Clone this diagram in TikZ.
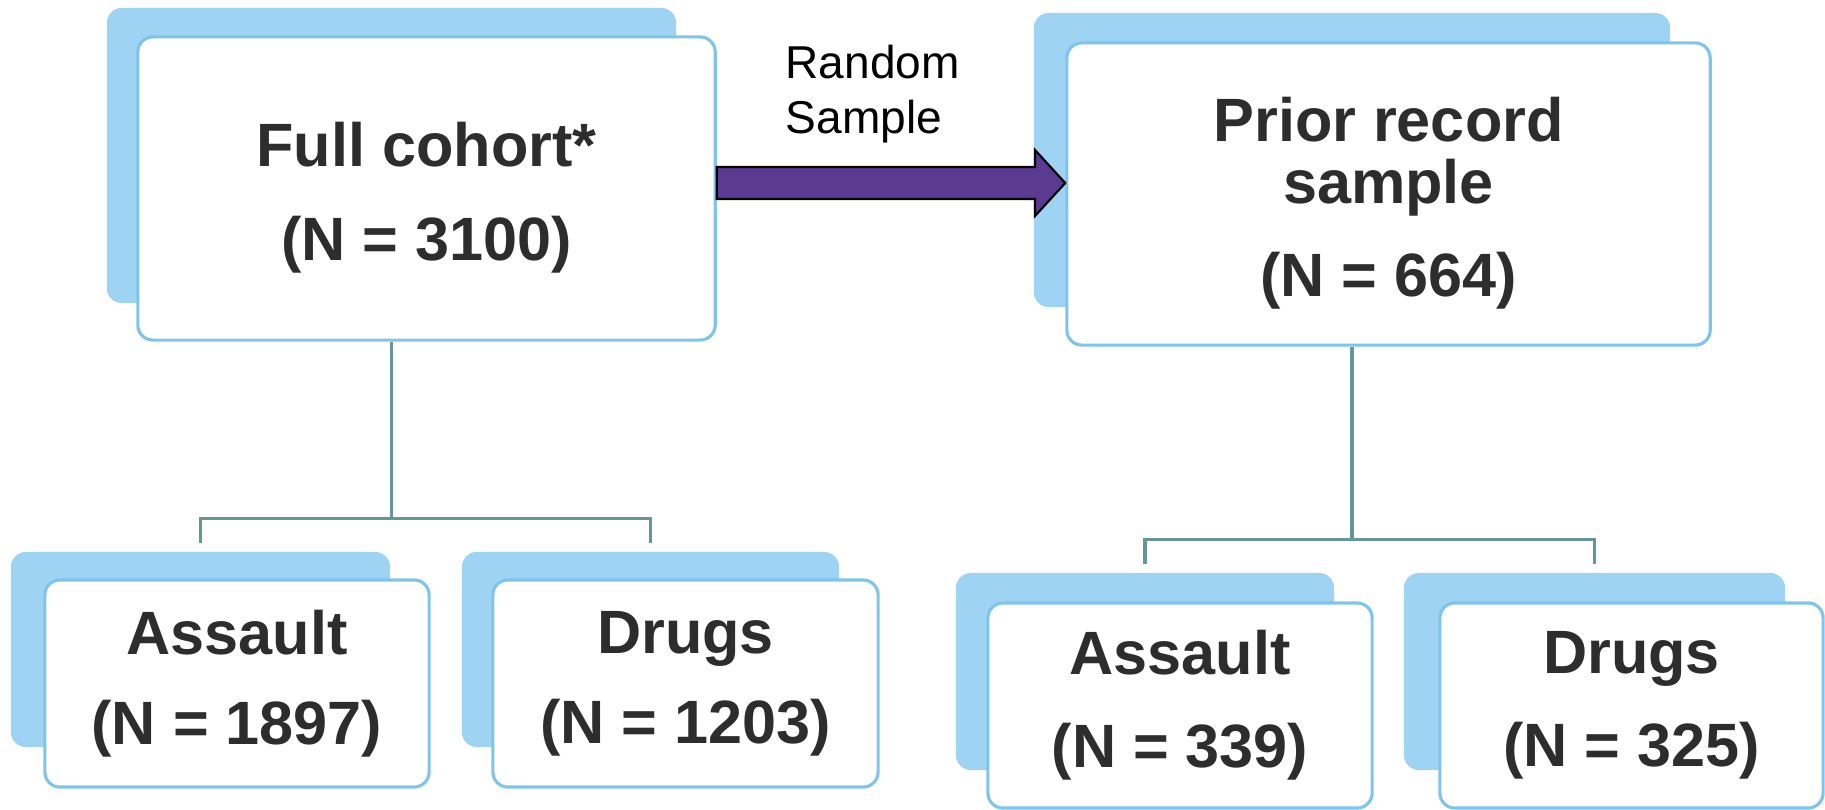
\documentclass[tikz,border=0pt]{standalone}
\usepackage{fontspec}
\setmainfont{Liberation Sans}
\definecolor{backblue}{RGB}{158,211,243}
\definecolor{edgeblue}{RGB}{128,196,236}
\definecolor{linkgray}{RGB}{100,150,155}
\definecolor{arrowpurple}{RGB}{91,58,145}
\definecolor{textgray}{RGB}{45,45,45}

\begin{document}
\begin{tikzpicture}[x=0.01cm,y=-0.01cm,
	back/.style={fill=backblue, rounded corners=0.15cm, inner sep=0pt},
	front/.style={draw=edgeblue, line width=0.9pt, fill=white, rounded corners=0.15cm, inner sep=0pt,
		align=center, text=textgray, font=\fontsize{17.4}{21}\selectfont\bfseries},
	link/.style={draw=linkgray, line width=0.9pt}]
	\useasboundingbox (0,0) rectangle (1825,809);
	\node[back, minimum width=5.69cm, minimum height=2.95cm] (fullb) at (391.5,155.5) {};
	\node[front, minimum width=5.77cm, minimum height=3.03cm] (full) at (426.5,188.5) {\rule{0pt}{17.9pt}Full cohort*\\[5.6pt](N = 3100)};
	\node[back, minimum width=6.36cm, minimum height=2.94cm] (priorb) at (1352,160) {};
	\node[front, minimum width=6.43cm, minimum height=3.02cm] (prior) at (1388.5,194) {\rule{0pt}{17.9pt}Prior record\\[-3.4pt]sample\\[5.5pt](N = 664)};
	\node[back, minimum width=3.79cm, minimum height=1.95cm] (aslfb) at (200.5,649.5) {};
	\node[front, minimum width=3.84cm, minimum height=2.07cm] (aslf) at (237,683.5) {Assault\\[4.6pt](N = 1897)};
	\node[back, minimum width=3.77cm, minimum height=1.95cm] (drgfb) at (650.5,649.5) {};
	\node[front, minimum width=3.85cm, minimum height=2.07cm] (drgf) at (685.5,683.5) {Drugs\\[4.6pt](N = 1203)};
	\node[back, minimum width=3.78cm, minimum height=1.97cm] (aslpb) at (1145,671.5) {};
	\node[front, minimum width=3.84cm, minimum height=2.05cm] (aslp) at (1180,705.5) {Assault\\[5.5pt](N = 339)};
	\node[back, minimum width=3.81cm, minimum height=1.97cm] (drgpb) at (1594.5,671.5) {};
	\node[front, minimum width=3.83cm, minimum height=2.05cm] (drgp) at (1631.5,705.5) {Drugs\\[5.5pt](N = 325)};
	\node[anchor=north west, inner sep=0pt, align=left, font=\fontsize{13.1}{15.7}\selectfont] (rs) at (785,44) {Random\\Sample};
	\draw[line width=0.6pt, fill=arrowpurple] (full.east |- 0,167) -- (1035,167) -- (1035,150) -- (prior.west |- 0,183)
		-- (1035,216) -- (1035,199) -- (full.east |- 0,199) -- cycle;
	\draw[link] (fullb |- full.south) -- ++(0,177) -| ([yshift=0.08cm]aslfb.north);
	\draw[link] (fullb |- full.south) ++(0,177) -| ([yshift=0.08cm]drgfb.north);
	\draw[link] (priorb |- prior.south) -- ++(0,193) -| ([yshift=0.08cm]aslpb.north);
	\draw[link] (priorb |- prior.south) ++(0,193) -| ([yshift=0.08cm]drgpb.north);
\end{tikzpicture}
\end{document}
